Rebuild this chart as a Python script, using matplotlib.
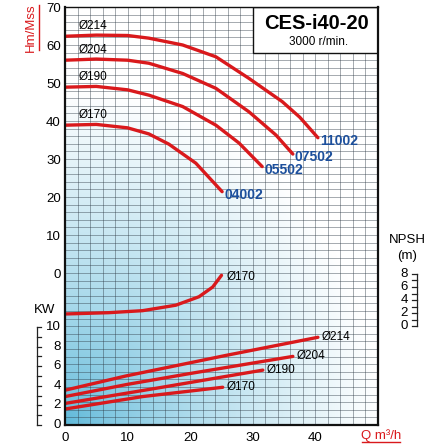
import numpy as np
import matplotlib
matplotlib.use("Agg")
import matplotlib.pyplot as plt
from matplotlib.transforms import blended_transform_factory

plt.rcParams['font.family'] = ['Liberation Sans', 'DejaVu Sans']

RED = '#d9191c'
BLUE = '#1c4f9c'

# head curves (Q m3/h, H m)
q_214 = [0, 5, 10, 13.4, 18.8, 24.1, 29.4, 34.7, 37.5, 40.4]
h_214 = [62.3, 62.6, 62.5, 61.8, 60.0, 56.9, 51.2, 45.1, 41.0, 35.6]
q_204 = [0, 5, 10, 13.4, 18.8, 24.1, 29.4, 33.7, 36.4]
h_204 = [56.0, 56.3, 56.0, 55.2, 52.5, 48.6, 42.4, 36.3, 31.3]
q_190 = [0, 5, 10, 13.4, 18.8, 24.1, 27.8, 31.5]
h_190 = [48.9, 49.1, 48.2, 46.8, 43.8, 38.9, 34.2, 28.0]
q_170 = [0, 5, 10, 13.4, 16.6, 20.9, 25.1]
h_170 = [38.9, 39.1, 38.2, 36.6, 33.9, 28.9, 21.4]

# power curves (kW)
pq_214 = [0, 9.7, 25.7, 40.4]
p_214 = [3.55, 5.0, 7.1, 8.95]
pq_204 = [0, 10, 20.4, 36.4]
p_204 = [2.9, 4.15, 5.3, 7.0]
pq_190 = [0, 15.5, 31.6]
p_190 = [2.2, 3.85, 5.6]
pq_170 = [0, 12.4, 25.2]
p_170 = [1.63, 2.9, 3.85]

# NPSH curve (m)
nq_170 = [0, 7, 12.4, 17.7, 21.4, 23.6, 25.0]
n_170 = [1.85, 2.05, 2.36, 3.2, 4.5, 6.0, 7.8]

models = ['11002', '07502', '05502', '04002']
diams = ['Ø214', 'Ø204', 'Ø190', 'Ø170']
head_ticks = [0, 10, 20, 30, 40, 50, 60, 70]
kw_ticks = [0, 2, 4, 6, 8, 10]
npsh_ticks = [0, 2, 4, 6, 8]
q_ticks = [0, 10, 20, 30, 40]


def kw2y(v):
    return -40 + np.asarray(v) * 2.579


def npsh2y(v):
    return -13.95 + np.asarray(v) * 1.711


FS = 9.5
fig = plt.figure(figsize=(4.48, 4.48), dpi=100)
W = 448.0
ax = fig.add_axes([65 / W, 1 - 425 / W, (378 - 65) / W, (425 - 7) / W])
ax.set_xlim(0, 50)
ax.set_ylim(-40, 70)

# background gradient
u, v = np.meshgrid(np.linspace(0, 1, 200), np.linspace(0, 1, 200))
d = np.clip(np.sqrt((u / 1.0) ** 2 + (v / 0.8) ** 2), 0, 1) ** 0.75
c0 = np.array([0.36, 0.72, 0.85])
img = c0[None, None, :] * (1 - d[..., None]) + np.ones(3)[None, None, :] * d[..., None]
ax.imshow(img, extent=[0, 1, 0, 1], transform=ax.transAxes, origin='lower',
          aspect='auto', zorder=0, interpolation='bilinear')

for x in np.arange(2, 50, 2):
    ax.axvline(x, color='#2e3b46', lw=0.6, alpha=0.5, zorder=1)
for y in np.arange(-38, 70, 2):
    ax.axhline(y, color='#2e3b46', lw=0.6, alpha=0.5, zorder=1)

lw = 2.4
for q, h in [(q_214, h_214), (q_204, h_204), (q_190, h_190), (q_170, h_170)]:
    ax.plot(q, h, color=RED, lw=lw, solid_capstyle='round', solid_joinstyle='round', zorder=3)
for q, p in [(pq_214, p_214), (pq_204, p_204), (pq_190, p_190), (pq_170, p_170)]:
    ax.plot(q, kw2y(p), color=RED, lw=lw, solid_capstyle='round', solid_joinstyle='round', zorder=3)
ax.plot(nq_170, npsh2y(n_170), color=RED, lw=lw, solid_capstyle='round', solid_joinstyle='round', zorder=3)

# diameter labels on head curves
for lab, h in zip(diams, [h_214[0], h_204[0], h_190[0], h_170[0]]):
    ax.text(2.2, h + 1.2, lab, fontsize=8.5, va='bottom', ha='left', zorder=4)

# model labels at curve ends
for lab, q, h in zip(models, [q_214, q_204, q_190, q_170], [h_214, h_204, h_190, h_170]):
    ax.text(q[-1] + 0.3, h[-1] - 0.8, lab, fontsize=10, fontweight='bold', color=BLUE,
            va='center', ha='left', zorder=4)

# power labels
for lab, q, p in zip(diams, [pq_214, pq_204, pq_190, pq_170], [p_214, p_204, p_190, p_170]):
    ax.text(q[-1] + 0.6, kw2y(p[-1]), lab, fontsize=8.5, va='center', ha='left', zorder=4)
ax.text(nq_170[-1] + 0.8, npsh2y(n_170[-1]) - 0.5, 'Ø170', fontsize=8.5, va='center', ha='left', zorder=4)

# title box
ax.add_patch(plt.Rectangle(((253 - 65) / 313, 1 - 46 / 418), 1 - (253 - 65) / 313, 46 / 418,
                           transform=ax.transAxes, facecolor='white', edgecolor='#111',
                           lw=1.0, zorder=5))
ax.text(0.805, 0.96, 'CES-i40-20', transform=ax.transAxes, fontsize=14.5, fontweight='bold',
        ha='center', va='center', zorder=6)
ax.text(0.81, 0.917, '3000 r/min.', transform=ax.transAxes, fontsize=8.5,
        ha='center', va='center', zorder=6)

for s in ax.spines.values():
    s.set_color('#111')
    s.set_linewidth(1.0)
    s.set_zorder(7)
ax.spines['left'].set_linewidth(1.6)
ax.spines['bottom'].set_linewidth(1.6)
ax.spines['right'].set_linewidth(1.6)

ax.set_xticks(q_ticks)
ax.set_xticklabels([str(t) for t in q_ticks], fontsize=FS)
ax.set_yticks(head_ticks)
ax.set_yticklabels([str(t) for t in head_ticks], fontsize=FS)
ax.tick_params(axis='both', length=0)
ax.tick_params(axis='x', pad=5)
ax.tick_params(axis='y', pad=3)

# kW scale on the left
tl = blended_transform_factory(fig.transFigure, ax.transData)
ax.plot([37 / W, 37 / W], kw2y([0, 10]), color='#222', lw=0.9, transform=tl, clip_on=False)
for k in range(0, 11):
    ax.plot([37 / W, 41 / W], kw2y([k, k]), color='#222', lw=0.9, transform=tl, clip_on=False)
for k in kw_ticks:
    ax.text(61 / W, kw2y(k), str(k), fontsize=FS, ha='right', va='center', transform=tl)
ax.text(45 / W, kw2y(10) + 4.5, 'KW', fontsize=FS, ha='center', va='center', transform=tl)

# NPSH scale on the right
ax.plot([417 / W, 417 / W], npsh2y([0, 8]), color='#222', lw=0.9, transform=tl, clip_on=False)
for k in range(0, 9):
    ax.plot([412 / W, 417 / W], npsh2y([k, k]), color='#222', lw=0.9, transform=tl, clip_on=False)
for k in npsh_ticks:
    ax.text(408 / W, npsh2y(k), str(k), fontsize=FS, ha='right', va='center', transform=tl)
fig.text(407 / W, 1 - 240 / W, 'NPSH', fontsize=FS, ha='center', va='center')
fig.text(407 / W, 1 - 256 / W, '(m)', fontsize=FS, ha='center', va='center')

# axis titles, red and underlined
fig.text(31 / W, 1 - 28 / W, 'Hm/Mss', fontsize=FS, color=RED, rotation=90, ha='center', va='center')
fig.add_artist(plt.Line2D([39 / W, 39 / W], [1 - 50 / W, 1 - 5 / W], color=RED, lw=1.0))
fig.text(381 / W, 1 - 436 / W, 'Q m³/h', fontsize=FS, color=RED, ha='center', va='center')
fig.add_artist(plt.Line2D([362 / W, 400 / W], [1 - 442 / W, 1 - 442 / W], color=RED, lw=1.0))

fig.savefig('out.png', dpi=100)
